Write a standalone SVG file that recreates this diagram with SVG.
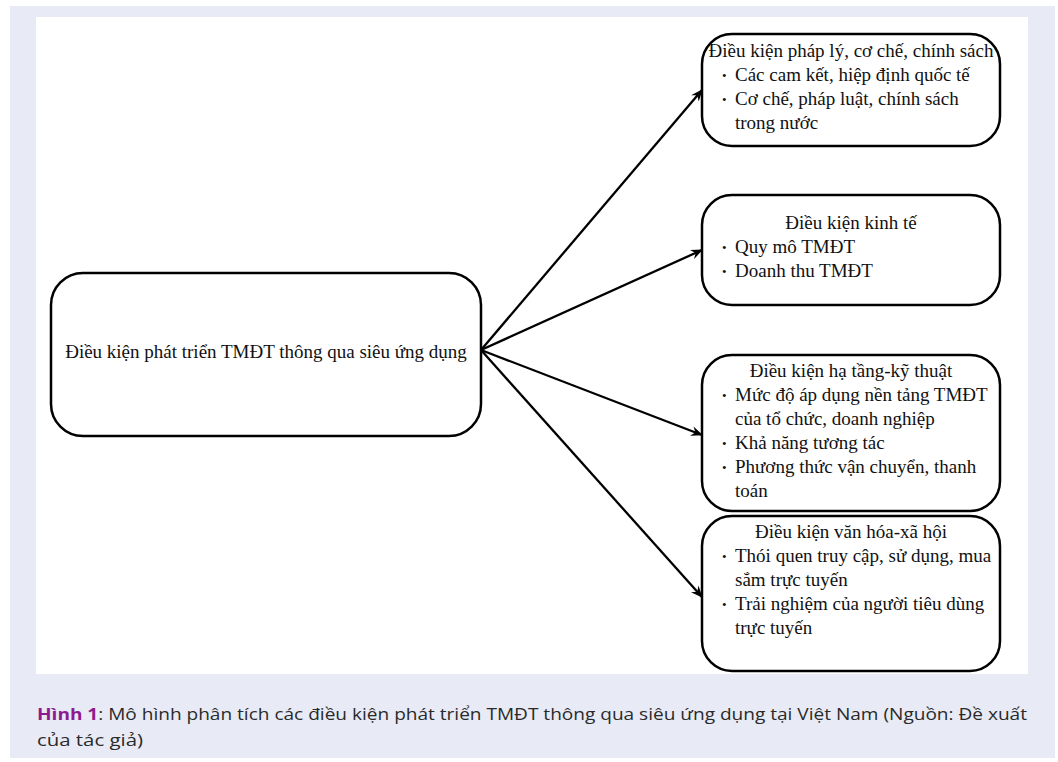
<svg xmlns="http://www.w3.org/2000/svg" width="1058" height="762" viewBox="0 0 1058 762">
<style>
.box{fill:#fff;stroke:#000;stroke-width:2.5}
.t{font-family:"Liberation Serif","Times New Roman",serif;font-size:19px;fill:#111}
.c{text-anchor:middle}
.b{font-size:13px}
.conn{stroke:#000;stroke-width:2.3;fill:none;marker-end:url(#ah)}
.cap{font-family:"Open Sans","Noto Sans",sans-serif;font-size:16px;fill:#2a2a2a}
</style>
<defs>
<marker id="ah" viewBox="0 0 12 10" refX="11" refY="5" markerWidth="12" markerHeight="10" markerUnits="userSpaceOnUse" orient="auto">
<path d="M0,0 L12,5 L0,10 L4,5 Z" fill="#000"/>
</marker>
</defs>
<rect x="10" y="6" width="1045" height="752" fill="#E8EBF6"/>
<rect x="36" y="17" width="992" height="657" fill="#fff"/>
<g id="connectors">
<line class="conn" x1="481" y1="350" x2="702" y2="90"/>
<line class="conn" x1="481" y1="350" x2="702" y2="250"/>
<line class="conn" x1="481" y1="350" x2="702" y2="435"/>
<line class="conn" x1="481" y1="350" x2="702" y2="597"/>
</g>
<g id="center">
<rect class="box" x="51" y="273" width="430" height="163" rx="32"/>
<text class="t c" x="266" y="358">Điều kiện phát triển TMĐT thông qua siêu ứng dụng</text>
</g>
<g id="legal">
<rect class="box" x="702" y="34" width="298" height="112" rx="30"/>
<text class="t c" x="851" y="57">Điều kiện pháp lý, cơ chế, chính sách</text>
<text class="t b" x="722" y="80">•</text><text class="t" x="735" y="81">Các cam kết, hiệp định quốc tế</text>
<text class="t b" x="722" y="104">•</text><text class="t" x="735" y="105">Cơ chế, pháp luật, chính sách</text>
<text class="t" x="735" y="129">trong nước</text>
</g>
<g id="economic">
<rect class="box" x="702" y="195" width="298" height="110" rx="30"/>
<text class="t c" x="851" y="229">Điều kiện kinh tế</text>
<text class="t b" x="722" y="252">•</text><text class="t" x="735" y="253">Quy mô TMĐT</text>
<text class="t b" x="722" y="276">•</text><text class="t" x="735" y="277">Doanh thu TMĐT</text>
</g>
<g id="infra">
<rect class="box" x="702" y="355" width="298" height="156" rx="30"/>
<text class="t c" x="851" y="377">Điều kiện hạ tầng-kỹ thuật</text>
<text class="t b" x="722" y="400">•</text><text class="t" x="735" y="401">Mức độ áp dụng nền tảng TMĐT</text>
<text class="t" x="735" y="425">của tổ chức, doanh nghiệp</text>
<text class="t b" x="722" y="448">•</text><text class="t" x="735" y="449">Khả năng tương tác</text>
<text class="t b" x="722" y="472">•</text><text class="t" x="735" y="473">Phương thức vận chuyển, thanh</text>
<text class="t" x="735" y="497">toán</text>
</g>
<g id="culture">
<rect class="box" x="702" y="516" width="298" height="155" rx="30"/>
<text class="t c" x="851" y="538">Điều kiện văn hóa-xã hội</text>
<text class="t b" x="722" y="561">•</text><text class="t" x="735" y="562">Thói quen truy cập, sử dụng, mua</text>
<text class="t" x="735" y="586">sắm trực tuyến</text>
<text class="t b" x="722" y="609">•</text><text class="t" x="735" y="610">Trải nghiệm của người tiêu dùng</text>
<text class="t" x="735" y="634">trực tuyến</text>
</g>
<g id="caption">
<text class="cap" x="37" y="720" textLength="990" lengthAdjust="spacingAndGlyphs"><tspan font-weight="bold" fill="#8E1B8E">Hình 1</tspan>: Mô hình phân tích các điều kiện phát triển TMĐT thông qua siêu ứng dụng tại Việt Nam (Nguồn: Đề xuất</text>
<text class="cap" x="37" y="746" textLength="106" lengthAdjust="spacingAndGlyphs">của tác giả)</text>
</g>
</svg>
